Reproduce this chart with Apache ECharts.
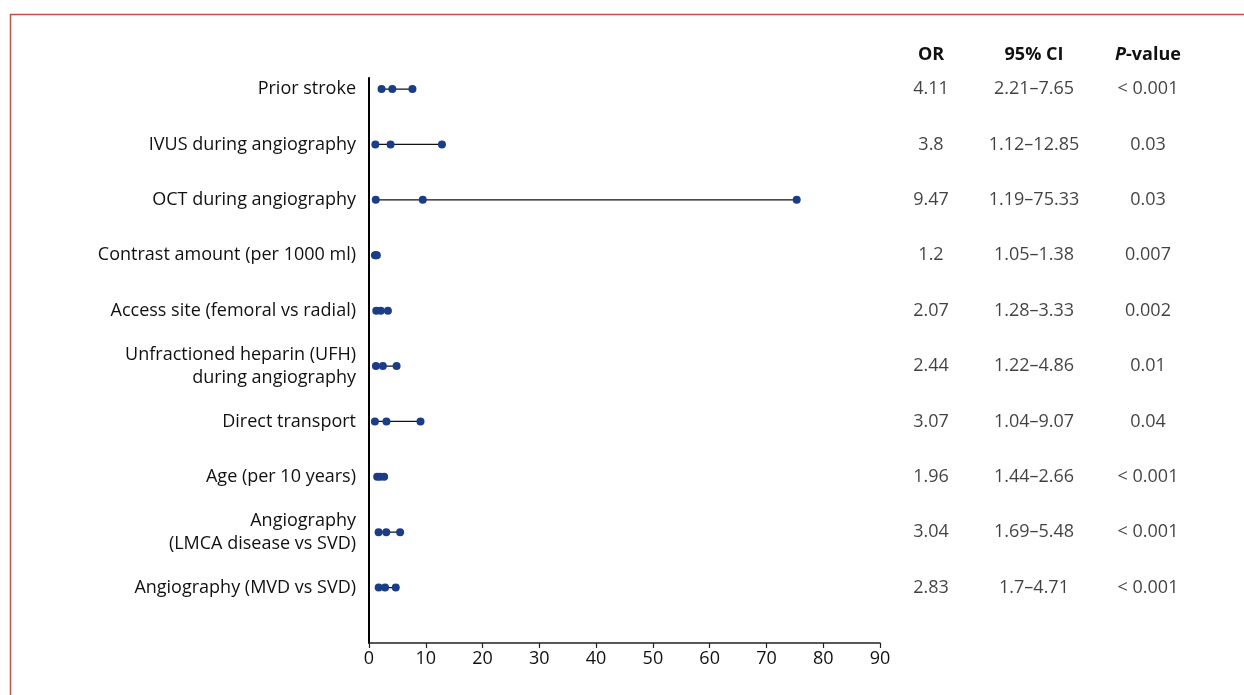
<!DOCTYPE html>
<html><head><meta charset="utf-8">
<script src="https://cdn.jsdelivr.net/npm/echarts@6/dist/echarts.min.js"></script>
<style>html,body{margin:0;padding:0;background:#fff}#c{width:1244px;height:695px}</style>
</head><body><div id="c"></div>
<script>
const categories = ['Prior stroke','IVUS during angiography','OCT during angiography','Contrast amount (per 1000 ml)','Access site (femoral vs radial)','Unfractioned heparin (UFH)\nduring angiography','Direct transport','Age (per 10 years)','Angiography\n(LMCA disease vs SVD)','Angiography (MVD vs SVD)'];
const orValues = [4.11, 3.8, 9.47, 1.2, 2.07, 2.44, 3.07, 1.96, 3.04, 2.83];
const ciLow = [2.21, 1.12, 1.19, 1.05, 1.28, 1.22, 1.04, 1.44, 1.69, 1.7];
const ciHigh = [7.65, 12.85, 75.33, 1.38, 3.33, 4.86, 9.07, 2.66, 5.48, 4.71];
const orText = ['4.11','3.8','9.47','1.2','2.07','2.44','3.07','1.96','3.04','2.83'];
const ciText = ['2.21\u20137.65','1.12\u201312.85','1.19\u201375.33','1.05\u20131.38','1.28\u20133.33','1.22\u20134.86','1.04\u20139.07','1.44\u20132.66','1.69\u20135.48','1.7\u20134.71'];
const pText = ['< 0.001','0.03','0.03','0.007','0.002','0.01','0.04','< 0.001','< 0.001','< 0.001'];
const xTicks = [0,10,20,30,40,50,60,70,80,90];

const FONT = '"Open Sans", "Noto Sans", sans-serif';
const TXT = '#111';
const chart = echarts.init(document.getElementById('c'), null, {renderer:'canvas'});

const rowSeries = categories.map((c, i) => ({
  type: 'line', xAxisIndex: 0, yAxisIndex: 0,
  data: [[ciLow[i], i+1], [orValues[i], i+1], [ciHigh[i], i+1]],
  symbol: 'circle', symbolSize: 8, showSymbol: true,
  lineStyle: {color: '#111', width: 1.2},
  itemStyle: {color: '#1b3c87'},
  animation: false, silent: true, z: 3
}));

function tableSeries(xpos, texts) {
  return {
    type: 'scatter', xAxisIndex: 1, yAxisIndex: 1, symbolSize: 0.001,
    data: texts.map((t, i) => ({value: [xpos, i+1], label: {formatter: t}})),
    label: {show: true, position: 'inside', color: TXT, fontSize: 18, fontFamily: FONT},
    animation: false, silent: true
  };
}

chart.setOption({
  backgroundColor: '#fff',
  animation: false,
  grid: [
    {left: 369, right: 364, top: 78, bottom: 52, containLabel: false},
    {left: 880, right: 0, top: 78, bottom: 52, containLabel: false}
  ],
  xAxis: [
    {type: 'value', gridIndex: 0, min: 0, max: 90, interval: 10,
     axisLine: {show: true, lineStyle: {color: '#222', width: 1.5}},
     axisTick: {show: true, length: 5, lineStyle: {color: '#222', width: 1.2}},
     axisLabel: {color: TXT, fontSize: 18, fontFamily: FONT, margin: 7},
     splitLine: {show: false}},
    {type: 'value', gridIndex: 1, min: 880, max: 1244, show: false}
  ],
  yAxis: [
    {type: 'value', gridIndex: 0, min: 0.8, max: 11, inverse: true,
     axisLine: {show: true, lineStyle: {color: '#000', width: 2}},
     axisTick: {show: false}, splitLine: {show: false},
     axisLabel: {show: true, customValues: [1,2,3,4,5,6,7,8,9,10],
       formatter: v => categories[Math.round(v)-1] || '',
       color: TXT, fontSize: 18, fontFamily: FONT, margin: 13, lineHeight: 23, align: 'right'}},
    {type: 'value', gridIndex: 1, min: 0.8, max: 11, inverse: true, show: false}
  ],
  graphic: [
    {type: 'rect', shape: {x: 10.5, y: 14.5, width: 1400, height: 900},
     style: {fill: 'none', stroke: '#c0504d', lineWidth: 1.5}, silent: true},
    {type: 'text', x: 931, y: 55, style: {text: 'OR', font: 'bold 18px ' + FONT, fill: TXT, textAlign: 'center', textVerticalAlign: 'middle'}},
    {type: 'text', x: 1034, y: 55, style: {text: '95% CI', font: 'bold 18px ' + FONT, fill: TXT, textAlign: 'center', textVerticalAlign: 'middle'}},
    {type: 'text', x: 1148, y: 55, style: {text: '{i|P}{b|-value}', textAlign: 'center', textVerticalAlign: 'middle',
      rich: {i: {fontStyle: 'italic', fontWeight: 'bold', fontSize: 18, fontFamily: FONT, fill: TXT, color: TXT},
             b: {fontWeight: 'bold', fontSize: 18, fontFamily: FONT, fill: TXT, color: TXT}}}}
  ],
  series: rowSeries.concat([
    tableSeries(931, orText),
    tableSeries(1034, ciText),
    tableSeries(1148, pText)
  ])
});
</script></body></html>
